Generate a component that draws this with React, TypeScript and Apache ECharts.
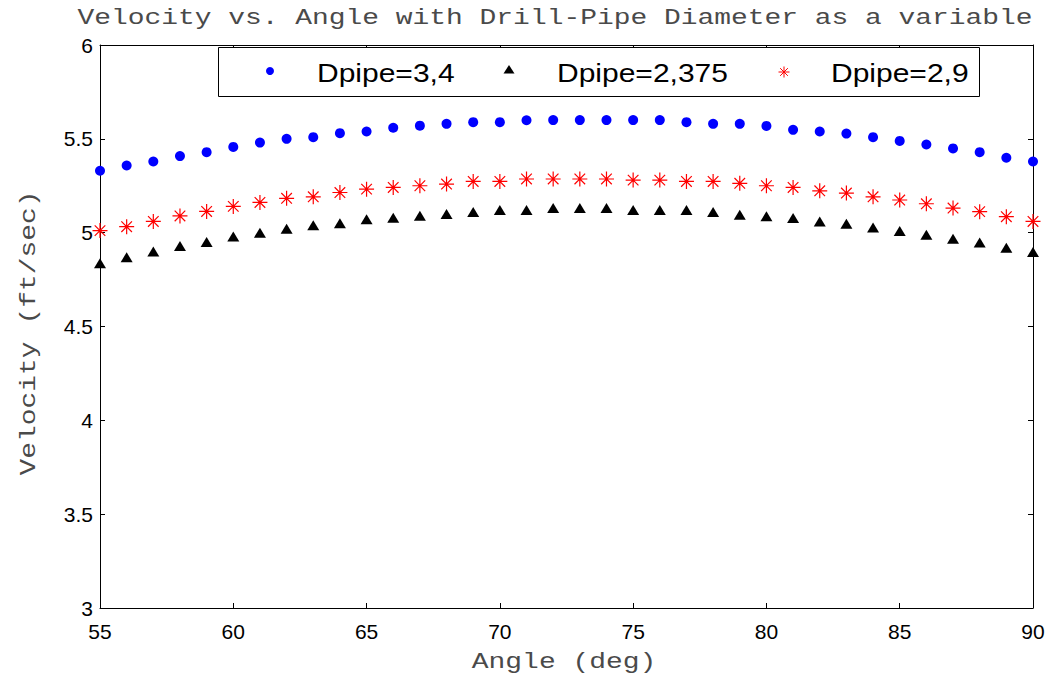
import React, { useEffect, useRef } from "react";
import * as echarts from "echarts";

const angles = [55, 56, 57, 58, 59, 60, 61, 62, 63, 64, 65, 66, 67, 68, 69, 70, 71, 72, 73, 74, 75, 76, 77, 78, 79, 80, 81, 82, 83, 84, 85, 86, 87, 88, 89, 90];

const dpipe34 = [5.33, 5.358, 5.379, 5.408, 5.429, 5.457, 5.48, 5.5, 5.509, 5.53, 5.539, 5.559, 5.57, 5.58, 5.589, 5.589, 5.599, 5.6, 5.6, 5.6, 5.6, 5.6, 5.589, 5.58, 5.58, 5.569, 5.548, 5.539, 5.528, 5.509, 5.489, 5.47, 5.449, 5.429, 5.399, 5.379];

const dpipe2375 = [4.837, 4.869, 4.899, 4.929, 4.95, 4.98, 5.0, 5.021, 5.039, 5.05, 5.071, 5.08, 5.09, 5.099, 5.11, 5.121, 5.121, 5.131, 5.131, 5.131, 5.121, 5.121, 5.121, 5.11, 5.096, 5.087, 5.078, 5.059, 5.048, 5.028, 5.009, 4.989, 4.968, 4.947, 4.919, 4.897];

const dpipe29 = [5.011, 5.032, 5.06, 5.089, 5.113, 5.14, 5.161, 5.183, 5.191, 5.214, 5.232, 5.241, 5.25, 5.259, 5.273, 5.273, 5.286, 5.286, 5.286, 5.286, 5.28, 5.28, 5.273, 5.273, 5.263, 5.25, 5.241, 5.223, 5.211, 5.191, 5.174, 5.154, 5.131, 5.112, 5.085, 5.06];

const seriesNames = ["Dpipe=3,4", "Dpipe=2,375", "Dpipe=2,9"];
const titleText = "Velocity vs. Angle with Drill-Pipe Diameter as a variable";
const xAxisTitle = "Angle (deg)";
const yAxisTitle = "Velocity (ft/sec)";

const STAR = "path://M0,6L12,6M6,0L6,12M1.76,1.76L10.24,10.24M10.24,1.76L1.76,10.24";

const mono = "'Liberation Mono', 'DejaVu Sans Mono', monospace";
const sans = "'Liberation Sans', Arial, sans-serif";

export default function App() {
  const ref = useRef<HTMLDivElement>(null);

  useEffect(() => {
    if (!ref.current) return;
    const chart = echarts.init(ref.current, undefined, { renderer: "svg" });

    const toPairs = (ys: number[]) => angles.map((a, i) => [a, ys[i]]);

    const axisCommon = {
      axisLine: { show: true, lineStyle: { color: "#000", width: 1 } },
      axisTick: { show: true, inside: true, length: 5, lineStyle: { color: "#000" } },
      splitLine: { show: false },
    };

    const monoText = (text: string, x: number, y: number, rotation = 0) => ({
      type: "text",
      x,
      y,
      rotation,
      scaleX: 1.27,
      scaleY: 1,
      z: 100,
      style: {
        text,
        x: 0,
        y: 0,
        align: "center",
        verticalAlign: "middle",
        fontFamily: mono,
        fontSize: 22,
        fill: "#4a4a4a",
      },
    });

    const legendText = (text: string, x: number) => ({
      type: "text",
      x,
      y: 73,
      scaleX: 1.2,
      z: 101,
      style: {
        text,
        x: 0,
        y: 0,
        align: "left",
        verticalAlign: "middle",
        fontFamily: sans,
        fontSize: 25,
        fill: "#000",
      },
    });

    const sx = 784, sy = 72, r = 5.5;
    const starLines = [
      [sx - r, sy, sx + r, sy],
      [sx, sy - r, sx, sy + r],
      [sx - r * 0.7, sy - r * 0.7, sx + r * 0.7, sy + r * 0.7],
      [sx + r * 0.7, sy - r * 0.7, sx - r * 0.7, sy + r * 0.7],
    ].map(([x1, y1, x2, y2]) => ({
      type: "line",
      z: 101,
      shape: { x1, y1, x2, y2 },
      style: { stroke: "#ff0000", lineWidth: 1 },
    }));

    chart.setOption({
      animation: false,
      backgroundColor: "#fff",
      grid: { left: 100, right: 16, top: 45, bottom: 70, containLabel: false },
      xAxis: [
        {
          type: "value",
          min: 55,
          max: 90,
          interval: 5,
          position: "bottom",
          ...axisCommon,
          axisLabel: { show: true, margin: 13, color: "#000", fontFamily: sans, fontSize: 21 },
        },
        {
          type: "value",
          min: 55,
          max: 90,
          interval: 5,
          position: "top",
          ...axisCommon,
          axisLabel: { show: false },
        },
      ],
      yAxis: [
        {
          type: "value",
          min: 3,
          max: 6,
          interval: 0.5,
          position: "left",
          ...axisCommon,
          axisLabel: { show: true, margin: 7, color: "#000", fontFamily: sans, fontSize: 21 },
        },
        {
          type: "value",
          min: 3,
          max: 6,
          interval: 0.5,
          position: "right",
          ...axisCommon,
          axisLabel: { show: false },
        },
      ],
      series: [
        {
          name: seriesNames[0],
          type: "scatter",
          clip: false,
          symbol: "circle",
          symbolSize: 10,
          itemStyle: { color: "#0000ff", opacity: 1 },
          data: toPairs(dpipe34),
        },
        {
          name: seriesNames[1],
          type: "scatter",
          clip: false,
          symbol: "triangle",
          symbolSize: [12, 10],
          itemStyle: { color: "#000000", opacity: 1 },
          data: toPairs(dpipe2375),
        },
        {
          name: seriesNames[2],
          type: "scatter",
          clip: false,
          symbol: STAR,
          symbolSize: 15,
          itemStyle: { color: "#ff0000", borderColor: "#ff0000", borderWidth: 1.2, opacity: 1 },
          data: toPairs(dpipe29),
        },
      ],
      graphic: [
        monoText(titleText, 555, 18),
        monoText(xAxisTitle, 564, 662),
        monoText(yAxisTitle, 29, 333, Math.PI / 2),
        {
          type: "rect",
          z: 100,
          shape: { x: 218.5, y: 47.5, width: 761, height: 49 },
          style: { fill: "#fff", stroke: "#000", lineWidth: 1 },
        },
        {
          type: "circle",
          z: 101,
          shape: { cx: 270, cy: 71, r: 4 },
          style: { fill: "#0000ff" },
        },
        legendText(seriesNames[0], 317),
        {
          type: "polygon",
          z: 101,
          shape: { points: [[503.5, 73.5], [514.5, 73.5], [509, 65]] },
          style: { fill: "#000" },
        },
        legendText(seriesNames[1], 557),
        ...starLines,
        legendText(seriesNames[2], 831),
      ],
    });

    return () => chart.dispose();
  }, []);

  return (
    <div
      ref={ref}
      style={{ position: "fixed", left: 0, top: 0, width: 1049, height: 678, background: "#fff" }}
    />
  );
}
